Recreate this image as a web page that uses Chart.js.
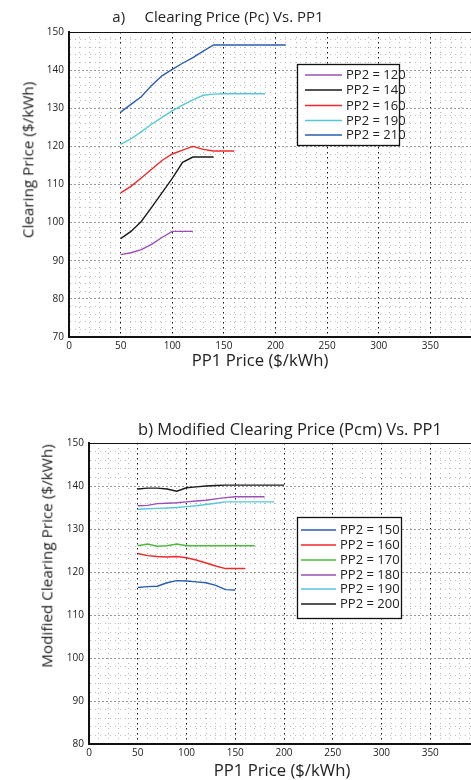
<!DOCTYPE html>
<html>
<head>
<meta charset="utf-8">
<script src="https://cdn.jsdelivr.net/npm/chart.js@4.4.1/dist/chart.umd.min.js"></script>
<style>
  body{margin:0;width:471px;height:780px;overflow:hidden;background:#fff;position:relative;font-family:'Open Sans','Noto Sans',sans-serif;color:#222}
  canvas{position:absolute;left:0}
  .t{position:absolute;white-space:pre;transform:translate(-50%,-50%);line-height:1}
  .r{transform:translate(-50%,-50%) rotate(-90deg)}
</style>
</head>
<body>
<canvas id="chart-a" width="540" height="380" style="top:0"></canvas>
<canvas id="chart-b" width="540" height="380" style="top:400px"></canvas>

<div class="t" style="left:218px;top:16px;font-size:15px">a)     Clearing Price (Pc) Vs. PP1</div>
<div class="t" style="left:260px;top:360px;font-size:16.7px">PP1 Price ($/kWh)</div>
<div class="t r" style="left:28px;top:160px;font-size:15.3px">Clearing Price ($/kWh)</div>

<div class="t" style="left:290px;top:429px;font-size:16.5px">b) Modified Clearing Price (Pcm) Vs. PP1</div>
<div class="t" style="left:282px;top:770px;font-size:16.7px">PP1 Price ($/kWh)</div>
<div class="t r" style="left:47px;top:556px;font-size:15.3px">Modified Clearing Price ($/kWh)</div>

<script>
'use strict';

// ---- chart a) clearing price ----
const xA120 = [50,60,70,80,90,100,110,120];
const yA120 = [91.6,92.1,92.9,94.3,96.1,97.7,97.7,97.7];
const xA140 = [50,60,70,80,90,100,110,120,130,140];
const yA140 = [95.8,97.7,100.3,104,107.8,111.6,115.8,117.2,117.2,117.2];
const xA160 = [50,60,70,80,90,100,110,120,130,140,150,160];
const yA160 = [107.8,109.5,111.7,114,116.3,118,119,120,119.2,118.8,118.8,118.8];
const xA190 = [50,60,70,80,90,100,110,120,130,140,150,160,170,180,190];
const yA190 = [120.5,122,123.8,125.8,127.6,129.3,130.8,132.2,133.4,133.7,133.8,133.8,133.8,133.8,133.8];
const xA210 = [50,60,70,80,90,100,110,120,130,140,150,160,170,180,190,200,210];
const yA210 = [129,131,133,136,138.5,140.2,141.8,143.3,145,146.6,146.6,146.6,146.6,146.6,146.6,146.6,146.6];
const labelsA = ['PP2 = 120','PP2 = 140','PP2 = 160','PP2 = 190','PP2 = 210'];
const colorsA = ['#9b4fb5','#1a1a1a','#f02828','#55c8d8','#2a5cb0'];

// ---- chart b) modified clearing price ----
const xB150 = [50,60,70,80,90,100,110,120,130,140,150];
const yB150 = [116.4,116.6,116.7,117.5,118,117.9,117.7,117.5,116.9,115.9,115.8];
const xB160 = [50,60,70,80,90,100,110,120,130,140,150,160];
const yB160 = [124.3,123.8,123.6,123.5,123.6,123.3,122.8,122.1,121.4,120.8,120.8,120.8];
const xB170 = [50,60,70,80,90,100,110,120,130,140,150,160,170];
const yB170 = [126.1,126.5,126,126.1,126.5,126.1,126.1,126.1,126.1,126.1,126.1,126.1,126.1];
const xB180 = [50,60,70,80,90,100,110,120,130,140,150,160,170,180];
const yB180 = [135.4,135.5,135.9,136,136.1,136.3,136.5,136.7,137,137.3,137.5,137.5,137.5,137.5];
const xB190 = [50,60,70,80,90,100,110,120,130,140,150,160,170,180,190];
const yB190 = [134.6,134.7,134.8,134.9,135,135.2,135.4,135.7,136,136.3,136.3,136.3,136.3,136.3,136.3];
const xB200 = [50,60,70,80,90,100,110,120,130,140,150,160,170,180,190,200];
const yB200 = [139.3,139.5,139.5,139.3,138.8,139.6,139.8,140,140.1,140.2,140.2,140.2,140.2,140.2,140.2,140.2];
const labelsB = ['PP2 = 150','PP2 = 160','PP2 = 170','PP2 = 180','PP2 = 190','PP2 = 200'];
const colorsB = ['#2a5cb0','#f02828','#4cbb3a','#9b4fb5','#55c8d8','#1a1a1a'];

const xTickStep = 10, xLabelEvery = 50;
const yTickStep = 2, yLabelEvery = 10;

function pts(xs, ys){ return xs.map((x,i)=>({x:x, y:ys[i]})); }

function makeSets(xsList, ysList, labels, colors){
  return xsList.map((xs,i)=>({
    label:labels[i], data:pts(xs, ysList[i]),
    borderColor:colors[i], backgroundColor:colors[i],
    borderWidth:1.4, pointRadius:0, tension:0, fill:false
  }));
}

// box round the plot + legend box in the plot
const framePlugin = {
  id:'frame',
  afterDraw(chart, args, o){
    const {ctx, chartArea:a} = chart;
    ctx.save();
    ctx.strokeStyle='#111'; ctx.lineWidth=1;
    ctx.beginPath(); ctx.moveTo(a.left, a.top+0.5); ctx.lineTo(a.right, a.top+0.5);
    ctx.moveTo(a.right-0.5, a.top); ctx.lineTo(a.right-0.5, a.bottom); ctx.stroke();
    // legend
    ctx.fillStyle='#fff';
    ctx.fillRect(o.x, o.y, o.w, o.h);
    ctx.lineWidth=1.3; ctx.strokeStyle='#111';
    ctx.strokeRect(o.x+0.5, o.y+0.5, o.w, o.h);
    ctx.font = o.font; ctx.textBaseline='middle'; ctx.textAlign='left';
    chart.data.datasets.forEach((d,i)=>{
      const yy = o.rows[i];
      ctx.strokeStyle=d.borderColor; ctx.lineWidth=1.5;
      ctx.beginPath(); ctx.moveTo(o.lx0, yy); ctx.lineTo(o.lx1, yy); ctx.stroke();
      ctx.fillStyle='#222'; ctx.fillText(d.label, o.tx, yy+0.5);
    });
    ctx.restore();
  }
};

function axes(yMin, yMax, yW, xH){
  return {
    x:{type:'linear', min:0, max:400,
      afterFit:s=>{ s.height = xH; },
      ticks:{stepSize:xTickStep, autoSkip:false, maxRotation:0, color:'#222', padding:3,
        font:{family:"'Open Sans','Noto Sans',sans-serif", size:10},
        callback:v=>v%xLabelEvery===0 && v<400 ? v : ''},
      grid:{drawTicks:false, lineWidth:1,
        color:c=>c.tick && c.tick.value%xLabelEvery===0 ? '#111' : '#b4b4b4'},
      border:{color:'#111', width:2,
        dash:c=>!c.tick ? [] : (c.tick.value%xLabelEvery===0 ? [1.5,3.5] : [1,4])}
    },
    y:{type:'linear', min:yMin, max:yMax,
      afterFit:s=>{ s.width = yW; },
      ticks:{stepSize:yTickStep, autoSkip:false, color:'#222', padding:5,
        font:{family:"'Open Sans','Noto Sans',sans-serif", size:10},
        callback:v=>v%yLabelEvery===0 ? v : ''},
      grid:{drawTicks:false, lineWidth:1,
        color:c=>c.tick && c.tick.value%yLabelEvery===0 ? '#999' : '#bdbdbd'},
      border:{color:'#111', width:2,
        dash:c=>!c.tick ? [] : (c.tick.value%yLabelEvery===0 ? [2,2] : [1,4])}
    }
  };
}

new Chart(document.getElementById('chart-a'), {
  type:'line',
  data:{datasets:makeSets([xA120,xA140,xA160,xA190,xA210],[yA120,yA140,yA160,yA190,yA210],labelsA,colorsA)},
  options:{
    responsive:false, animation:false,
    layout:{padding:{left:0, top:32, right:58, bottom:23}},
    plugins:{legend:{display:false}, tooltip:{enabled:false},
      frame:{x:297, y:64, w:102, h:81, rows:[75,90,105.5,120.5,135], lx0:305, lx1:342, tx:346, font:"13px 'Open Sans','Noto Sans',sans-serif"}},
    scales:axes(70,150,69,20)
  },
  plugins:[framePlugin]
});

new Chart(document.getElementById('chart-b'), {
  type:'line',
  data:{datasets:makeSets([xB150,xB160,xB170,xB180,xB190,xB200],[yB150,yB160,yB170,yB180,yB190,yB200],labelsB,colorsB)},
  options:{
    responsive:false, animation:false,
    layout:{padding:{left:0, top:43, right:61, bottom:16}},
    plugins:{legend:{display:false}, tooltip:{enabled:false},
      frame:{x:297, y:117, w:104, h:101, rows:[130,145,160,175,189,204], lx0:301, lx1:336, tx:340, font:"13px 'Open Sans','Noto Sans',sans-serif"}},
    scales:axes(80,150,89,20)
  },
  plugins:[framePlugin]
});
</script>
</body>
</html>
